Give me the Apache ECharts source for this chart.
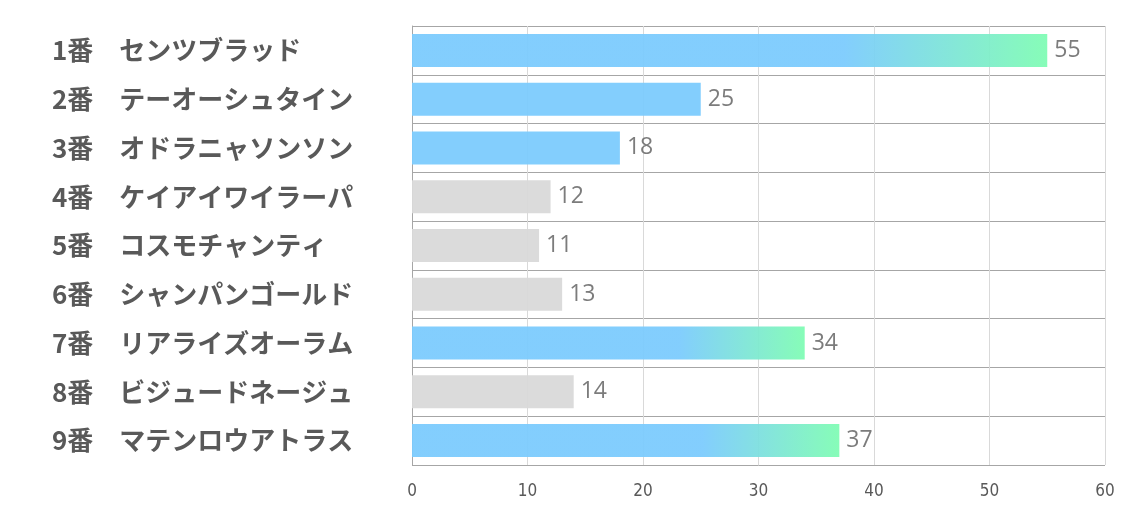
<!DOCTYPE html>
<html><head><meta charset="utf-8">
<script src="https://cdn.jsdelivr.net/npm/echarts@6/dist/echarts.min.js"></script>
<style>html,body{margin:0;padding:0;background:#fff}#c{width:1134px;height:510px}</style>
</head><body><div id="c"></div>
<script>
const numbers = ['1番','2番','3番','4番','5番','6番','7番','8番','9番'];
const names = ['センツブラッド','テーオーシュタイン','オドラニャソンソン','ケイアイワイラーパ','コスモチャンティ','シャンパンゴールド','リアライズオーラム','ビジュードネージュ','マテンロウアトラス'];
const values = [55, 25, 18, 12, 11, 13, 34, 14, 37];
const xTicks = [0, 10, 20, 30, 40, 50, 60];

const categories = numbers.map((n, i) => n + '\u3000' + names[i]);
const sorted = values.slice().sort((a, b) => b - a);
const rank = values.map(v => sorted.indexOf(v));
const blue = '#7ccbfd', green = '#80fcb4', gray = '#d9d9d9';

const data = values.map((v, i) => {
  let color;
  if (rank[i] < 3) {
    color = new echarts.graphic.LinearGradient(0, 0, 1, 0, [
      {offset: 0, color: blue}, {offset: 0.68, color: blue}, {offset: 1, color: green}
    ]);
  } else if (rank[i] < 5) {
    color = blue;
  } else {
    color = gray;
  }
  return {value: v, itemStyle: {color: color}};
});

const chart = echarts.init(document.getElementById('c'));
chart.setOption({
  animation: false,
  grid: {left: 412, right: 29, top: 26, bottom: 45, containLabel: false},
  xAxis: {
    type: 'value', min: xTicks[0], max: xTicks[xTicks.length - 1], interval: 10,
    axisLine: {show: false}, axisTick: {show: false},
    splitLine: {show: true, lineStyle: {color: '#d9d9d9', width: 1}},
    axisLabel: {color: '#595959', fontSize: 17, margin: 18, fontFamily: 'Liberation Sans Narrow, DejaVu Sans Condensed, sans-serif'}
  },
  yAxis: {
    type: 'category', data: categories, inverse: true,
    axisLine: {show: true, lineStyle: {color: '#a6a6a6'}},
    axisTick: {show: false},
    splitLine: {show: true, lineStyle: {color: '#a6a6a6', width: 1}},
    axisLabel: {align: 'left', margin: 360, color: '#595959', fontSize: 26, fontWeight: 'bold', letterSpacing: 1, fontFamily: 'Noto Sans CJK JP'}
  },
  series: [{
    type: 'bar', data: data, barWidth: 33,
    itemStyle: {opacity: 0.95},
    label: {show: true, position: 'right', distance: 7, color: '#757575', fontSize: 23, fontFamily: 'Open Sans, Noto Sans, sans-serif'}
  }]
});
</script></body></html>
